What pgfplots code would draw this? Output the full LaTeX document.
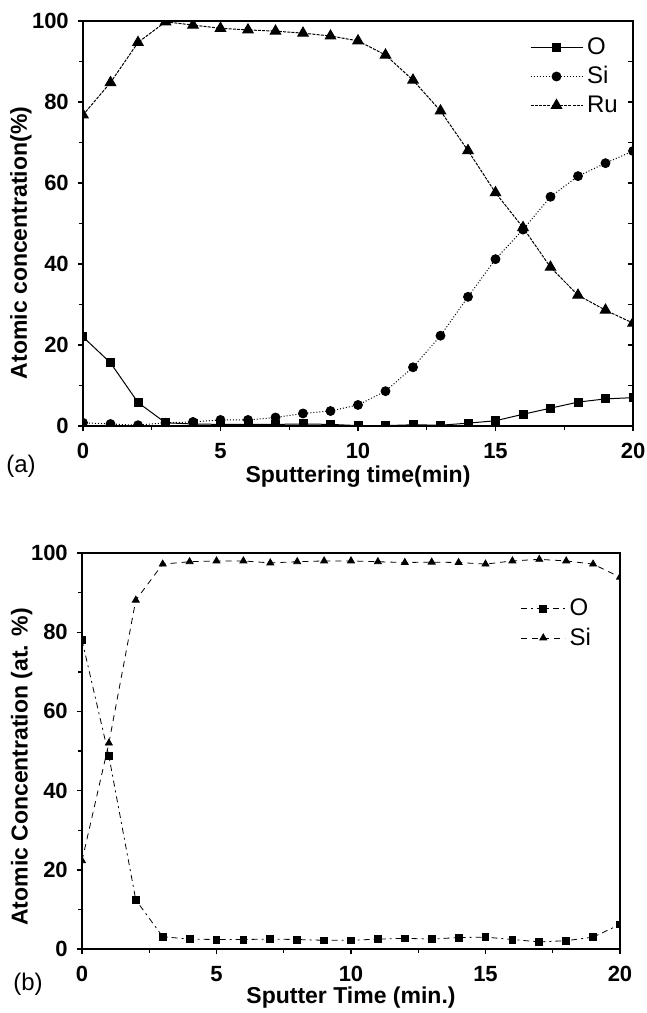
\documentclass[border=0pt]{standalone}
\usepackage{pgfplots}
\pgfplotsset{compat=1.18}
\usepackage{fontspec}
\setmainfont{Liberation Sans}

\pgfplotsset{
  depth/.style={
    scale only axis,
    xmin=0, xmax=20, ymin=0, ymax=100,
    xtick={0,5,10,15,20}, ytick={0,20,...,100},
    minor x tick num=1, minor y tick num=1,
    xtick pos=bottom, ytick pos=left,
    tick align=outside,
    major tick length=2.6pt, minor tick length=2pt,
    every tick/.style={black, line width=0.7pt},
    axis line style={line width=0.9pt},
    ticklabel style={font=\bfseries\fontsize{11}{13}\selectfont},
    xticklabel style={yshift=-2.5pt},
    yticklabel style={xshift=-1pt},
    /pgf/number format/assume math mode=true,
    label style={font=\bfseries\fontsize{11.5}{13}\selectfont},
    clip marker paths=true,
    legend cell align=left,
    legend style={draw=none, fill=none, font=\fontsize{12}{14}\selectfont,
      row sep=0.5pt, inner sep=0pt},
    legend image code/.code={
      \draw[mark repeat=2, mark phase=2, #1]
        plot coordinates {(0pt,0pt) (13pt,0pt) (26pt,0pt)};},
  },
}

\begin{document}
\begin{tikzpicture}
\useasboundingbox (0,0) rectangle (323.5pt,-506.5pt);

% (a) Ru film
\begin{axis}[depth,
  at={(41.5pt,-213pt)}, anchor=south west,
  width=275pt, height=202.5pt,
  xlabel={Sputtering time(min)},
  ylabel={Atomic concentration(\%)},
  xlabel style={at={(axis description cs:0.5,-0.125)}, anchor=center},
  ylabel style={at={(axis description cs:-0.113,0.452)}, anchor=center},
  legend style={at={(axis description cs:0.812,0.97)}, anchor=north west},
]
\addplot[black, line width=0.5pt, mark=square*, mark size=2pt] coordinates {
  (0,22.0) (1,15.6) (2,5.8) (3,0.8) (4,0.5) (5,0.4) (6,0.4) (7,0.4)
  (8,0.5) (9,0.4) (10,0.1) (11,0.1) (12,0.3) (13,0.2) (14,0.7)
  (15,1.3) (16,2.9) (17,4.4) (18,5.9) (19,6.7) (20,7.0)
};
\addlegendentry{O}
\addplot[black, line width=0.5pt, densely dotted, mark=*, mark size=2.2pt,
  mark options={solid}] coordinates {
  (0,0.8) (1,0.5) (2,0.2) (3,0.8) (4,1.0) (5,1.5) (6,1.5) (7,2.1)
  (8,3.1) (9,3.7) (10,5.2) (11,8.6) (12,14.5) (13,22.3) (14,31.9)
  (15,41.2) (16,48.5) (17,56.6) (18,61.7) (19,64.9) (20,67.9)
};
\addlegendentry{Si}
\addplot[black, line width=0.5pt, dash pattern=on 1.5pt off 0.6pt,
  mark=triangle*, mark size=3pt, mark options={solid}] coordinates {
  (0,76.8) (1,84.8) (2,94.7) (3,99.8) (4,99.0) (5,98.2) (6,97.8)
  (7,97.5) (8,97.0) (9,96.3) (10,95.1) (11,91.6) (12,85.4) (13,77.8)
  (14,68.0) (15,57.6) (16,49.0) (17,39.2) (18,32.3) (19,28.6) (20,25.4)
};
\addlegendentry{Ru}
\end{axis}

% inward ticks on the right edge of (a)
\begin{axis}[
  scale only axis,
  at={(41.5pt,-213pt)}, anchor=south west,
  width=275pt, height=202.5pt,
  xmin=0, xmax=20, ymin=0, ymax=100,
  axis x line=none, axis y line*=right,
  ytick={0,10,...,100}, yticklabels={},
  tick align=inside, major tick length=2.6pt,
  every tick/.style={black, line width=0.7pt},
  axis line style={line width=0.9pt},
]
\addplot[draw=none] coordinates {(0,0)};
\end{axis}

\node[font=\fontsize{12}{14}\selectfont] at (10.5pt,-233pt) {(a)};

% (b) SiO2 film
\begin{axis}[depth,
  at={(41pt,-474.5pt)}, anchor=south west,
  width=269pt, height=198pt,
  xlabel={Sputter Time (min.)},
  ylabel={Atomic Concentration (at. \%)},
  xlabel style={at={(axis description cs:0.5,-0.122)}, anchor=center},
  ylabel style={at={(axis description cs:-0.112,0.46)}, anchor=center},
  legend style={at={(axis description cs:0.815,0.895)}, anchor=north west},
  legend image code/.code={
    \draw[mark repeat=2, mark phase=2, #1]
      plot coordinates {(0pt,0pt) (11pt,0pt) (22pt,0pt)};},
]
\addplot[black, line width=0.4pt, dash pattern=on 3pt off 2pt on 1pt off 2pt,
  mark=square*, mark size=1.7pt, mark options={solid}] coordinates {
  (0,78.0) (1,48.7) (2,12.4) (3,3.1) (4,2.5) (5,2.4) (6,2.4) (7,2.5)
  (8,2.4) (9,2.2) (10,2.2) (11,2.5) (12,2.7) (13,2.5) (14,2.9)
  (15,3.0) (16,2.4) (17,1.8) (18,2.1) (19,3.0) (20,6.2)
};
\addlegendentry{O}
\addplot[black, line width=0.4pt, dash pattern=on 3pt off 2.5pt,
  mark=triangle*, mark size=2pt, mark options={solid}] coordinates {
  (0,22.3) (1,52.0) (2,88.1) (3,97.2) (4,97.8) (5,98.0) (6,98.0)
  (7,97.5) (8,97.8) (9,98.0) (10,98.0) (11,97.8) (12,97.6) (13,97.7)
  (14,97.6) (15,97.2) (16,98.0) (17,98.4) (18,98.0) (19,97.2) (20,93.9)
};
\addlegendentry{Si}
\end{axis}

\node[font=\fontsize{12}{14}\selectfont] at (14pt,-492pt) {(b)};
\end{tikzpicture}
\end{document}
